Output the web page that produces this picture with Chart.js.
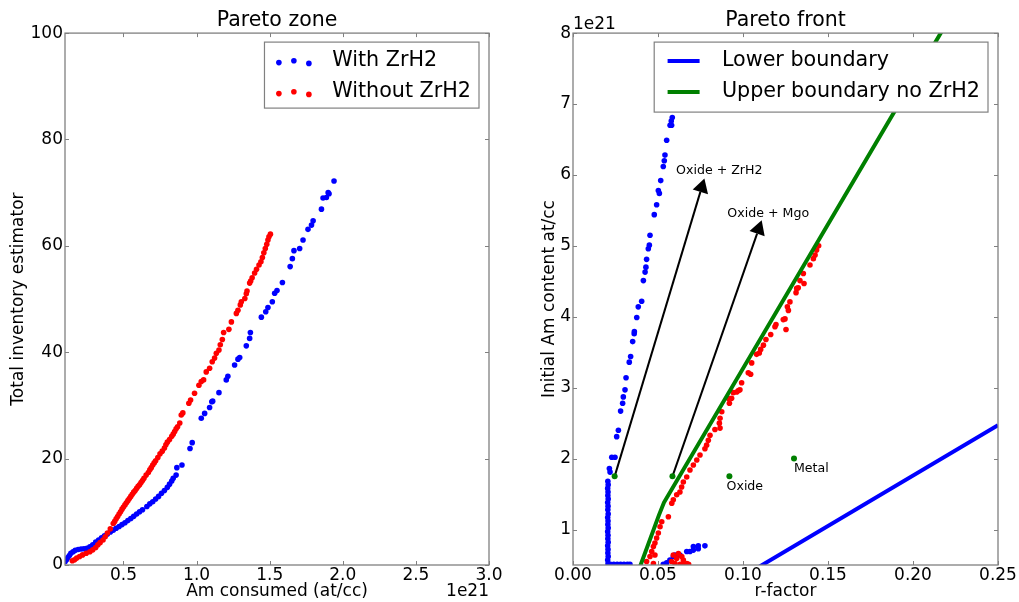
<!DOCTYPE html>
<html>
<head>
<meta charset="utf-8">
<script src="https://cdn.jsdelivr.net/npm/chart.js@4.4.0/dist/chart.umd.min.js"></script>
<style>
  html, body { margin: 0; padding: 0; background: #fff; }
  #wrap { position: relative; width: 1019px; height: 602px; }
  #zone { position: absolute; left: 0; top: 0; }
  #front { position: absolute; left: 520px; top: 0; }
</style>
</head>
<body>
<div id="wrap">
  <canvas id="zone" width="509" height="602"></canvas>
  <canvas id="front" width="499" height="602"></canvas>
</div>
<script>
const FONT = 'DejaVu Sans';
Chart.defaults.font.family = FONT;
Chart.defaults.color = '#000';

// ---- left panel: Pareto zone (x in units of 1e21 at/cc) ----
const zoneXTicks = [0.5, 1.0, 1.5, 2.0, 2.5, 3.0];
const zoneYTicks = [0, 20, 40, 60, 80, 100];
const withZrH2 = [
  [0.10,0.6],[0.11,1.0],[0.12,1.4],[0.13,1.8],[0.14,2.2],[0.155,2.5],[0.17,2.75],[0.19,2.9],
  [0.21,3.0],[0.23,3.05],[0.25,3.15],[0.27,3.4],[0.29,3.8],[0.31,4.3],[0.33,4.7],[0.35,5.1],
  [0.37,5.5],[0.39,5.85],[0.41,6.2],[0.43,6.55],[0.45,6.9],[0.47,7.25],[0.49,7.6],[0.51,7.95],
  [0.53,8.35],[0.55,8.75],[0.57,9.15],[0.59,9.6],[0.61,10.0],[0.63,10.4],[0.66,11.0],[0.68,11.5],
  [0.70,11.9],[0.72,12.4],[0.74,12.9],[0.76,13.5],[0.78,14.0],[0.80,14.6],[0.815,15.2],[0.83,15.8],
  [0.84,16.3],[0.86,16.9],[0.865,18.3],[0.90,18.8],[0.955,21.9],[0.97,23.0],[1.032,27.6],[1.055,28.5],
  [1.089,29.6],[1.104,30.7],[1.11,30.8],[1.153,32.4],[1.203,34.8],[1.214,35.5],[1.26,37.6],
  [1.283,38.7],[1.295,39.0],[1.34,41.2],[1.363,42.6],[1.368,43.7],[1.443,46.6],[1.473,47.6],[1.488,48.4],
  [1.518,49.5],[1.534,51.1],[1.55,51.6],[1.587,53.1],[1.64,56.1],[1.655,57.6],[1.666,59.1],[1.705,59.5],
  [1.728,61.1],[1.762,63.1],[1.786,63.9],[1.797,64.7],[1.854,66.9],[1.865,69.0],[1.888,69.1],[1.90,70.0],
  [1.906,69.8],[1.94,72.2]
];
const withoutZrH2 = [
  [0.15,0.8],[0.165,1.0],[0.18,1.3],[0.20,1.6],[0.22,1.9],[0.245,2.2],[0.27,2.5],[0.29,2.85],
  [0.31,3.3],[0.325,3.8],[0.34,4.2],[0.36,4.7],[0.375,5.3],[0.39,6.0],[0.41,6.8],[0.43,7.8],
  [0.44,8.2],[0.45,8.7],[0.46,9.1],[0.47,9.6],[0.48,10.0],[0.49,10.5],[0.50,10.9],[0.51,11.3],
  [0.52,11.7],[0.53,12.1],[0.54,12.5],[0.55,12.9],[0.56,13.3],[0.57,13.7],[0.58,14.0],[0.59,14.4],
  [0.60,14.8],[0.61,15.1],[0.62,15.5],[0.63,15.9],[0.64,16.3],[0.655,16.9],[0.67,17.4],[0.68,17.9],
  [0.69,18.3],[0.70,18.8],[0.71,19.2],[0.72,19.6],[0.735,20.2],[0.75,20.9],[0.765,21.4],[0.78,22.0],
  [0.79,22.6],[0.80,23.1],[0.815,23.6],[0.83,24.2],[0.84,24.6],[0.85,25.1],[0.86,25.6],[0.87,26.0],
  [0.885,26.7],[0.895,28.2],[0.906,28.6],[0.947,30.4],[0.959,31.0],[0.986,32.3],[1.016,33.8],
  [1.032,34.5],[1.048,34.8],[1.066,36.3],[1.089,37.0],[1.107,38.2],[1.123,38.9],[1.135,39.8],
  [1.153,40.4],[1.162,41.4],[1.176,42.4],[1.185,43.7],[1.221,44.3],[1.238,45.7],[1.272,47.3],
  [1.283,47.9],[1.299,48.9],[1.306,49.5],[1.33,50.1],[1.34,51.0],[1.345,51.5],[1.363,53.0],
  [1.37,53.4],[1.38,54.0],[1.397,54.9],[1.41,55.6],[1.427,56.4],[1.44,57.0],[1.45,57.8],[1.46,58.7],
  [1.47,59.5],[1.48,60.3],[1.488,61.1],[1.495,61.7],[1.505,62.2]
];

// ---- right panel: Pareto front (y in units of 1e21 at/cc) ----
const frontXTicks = [0, 0.05, 0.10, 0.15, 0.20, 0.25];
const frontYTicks = [1, 2, 3, 4, 5, 6, 7, 8];
const frontWith = [
  [0.0205,1.68],[0.0207,1.63],[0.0204,1.58],[0.0206,1.53],[0.0205,1.48],[0.0207,1.43],[0.0204,1.38],
  [0.0206,1.33],[0.0205,1.28],[0.0207,1.22],[0.0204,1.17],[0.0206,1.12],[0.0205,1.07],[0.0207,1.02],
  [0.0204,0.97],[0.0206,0.92],[0.0205,0.87],[0.0207,0.82],[0.0204,0.77],[0.0206,0.72],[0.0205,0.67],
  [0.0207,0.62],[0.0204,0.57],[0.0206,0.52],
  [0.022,0.51],[0.024,0.51],[0.026,0.51],[0.028,0.51],[0.030,0.51],[0.032,0.51],[0.0335,0.51],
  [0.0214,1.86],[0.0218,1.81],[0.0228,2.02],[0.0247,2.02],[0.0257,2.31],[0.0267,2.40],[0.0280,2.67],
  [0.0292,2.78],[0.0296,2.87],[0.0306,2.97],[0.0312,3.14],[0.0331,3.36],[0.0339,3.44],[0.0351,3.65],
  [0.0360,3.76],[0.0361,3.79],[0.0375,3.99],[0.0384,4.14],[0.0404,4.22],[0.0414,4.51],[0.0424,4.63],
  [0.0429,4.70],[0.0433,4.81],[0.0443,4.96],[0.0449,5.01],[0.0453,5.15],[0.0478,5.44],[0.0492,5.58],
  [0.0502,5.78],[0.0508,5.74],[0.0516,5.92],[0.0531,6.12],[0.0537,6.20],[0.0541,6.28],[0.0551,6.49],
  [0.0571,6.70],[0.0578,6.76],[0.0580,6.70],[0.0584,6.81],
  [0.0531,0.51],[0.0551,0.53],[0.057,0.57],[0.059,0.62],[0.060,0.64],[0.061,0.62],[0.0629,0.64],
  [0.0669,0.69],[0.0688,0.69],[0.0708,0.71],[0.0708,0.76],[0.0737,0.77],[0.0737,0.73],[0.0776,0.77]
];
const frontWithout = [
  [0.0433,0.55],[0.0453,0.62],[0.0463,0.69],[0.0473,0.52],[0.0473,0.76],[0.0482,0.81],[0.0482,0.64],
  [0.0492,0.88],[0.0502,0.95],[0.0512,1.04],[0.0522,1.11],[0.0561,1.18],[0.0581,1.37],[0.0590,1.42],
  [0.0610,1.49],[0.0629,1.53],[0.0639,1.60],[0.0649,1.67],[0.0669,1.74],[0.0688,1.84],[0.0708,1.91],
  [0.0728,1.98],[0.0747,2.05],[0.0776,2.14],[0.0786,2.19],[0.0796,2.26],[0.0806,2.33],[0.0835,2.41],
  [0.0865,2.43],[0.0861,2.50],[0.0865,2.57],[0.0875,2.66],[0.0920,2.78],[0.0914,2.85],[0.0933,2.85],
  [0.0943,2.93],[0.0963,2.94],[0.0973,2.96],[0.0982,2.97],[0.0992,3.07],[0.1031,3.21],[0.1045,3.19],
  [0.1051,3.35],[0.1080,3.47],[0.1096,3.49],[0.1104,3.54],[0.1120,3.60],[0.1135,3.68],[0.1163,3.75],
  [0.1188,3.86],[0.1194,3.89],[0.1253,3.82],[0.1237,3.96],[0.1247,3.97],[0.1267,4.09],[0.1261,4.14],
  [0.1276,4.21],[0.1312,4.34],[0.1325,4.41],[0.1316,4.40],[0.1359,4.47],[0.1335,4.51],[0.1355,4.61],
  [0.1394,4.73],[0.1414,4.82],[0.1424,4.87],[0.1433,4.94],[0.1445,5.00],
  [0.058,0.55],[0.059,0.64],[0.060,0.52],[0.061,0.59],[0.062,0.66],[0.064,0.62],[0.0649,0.57],
  [0.0669,0.52],[0.063,0.51],[0.065,0.51],[0.067,0.51],[0.068,0.51]
];
const lowerBoundary = [[0.10,0.34],[0.25,2.47]];
const upperBoundary = [[0.039,0.45],[0.0505,1.2],[0.0535,1.38],[0.22,8.15]];
const fuelPoints = [[0.0245,1.75],[0.0585,1.75],[0.092,1.75],[0.13,2.0]];
const pointLabels = [
  { text: 'Oxide', at: [0.0903, 1.61] },
  { text: 'Metal', at: [0.130, 1.86] }
];
const arrows = [
  { text: 'Oxide + ZrH2', from: [0.0245, 1.75], to: [0.0773, 5.95], textAt: [0.0606, 6.06] },
  { text: 'Oxide + Mgo', from: [0.0585, 1.75], to: [0.111, 5.36], textAt: [0.0908, 5.46] }
];

const xy = pts => pts.map(([x, y]) => ({ x, y }));
const FRAME = '#808080';

function axis(min, max, ticks, digits, title, side) {
  const horiz = side === 'x';
  return {
    type: 'linear', min, max,
    afterBuildTicks: s => { s.ticks = ticks.map(v => ({ value: v })); },
    afterFit: s => { if (horiz) s.height = 37; else s.width = side.width; },
    grid: { display: false, drawTicks: false },
    border: { display: false },
    ticks: {
      autoSkip: false, maxRotation: 0, minRotation: 0,
      padding: horiz ? 0 : 2,
      font: { size: 17 },
      callback: v => v.toFixed(digits)
    },
    title: {
      display: true, text: title, font: { size: 17 },
      padding: horiz ? { top: 0, bottom: 0 } : { top: side.pad, bottom: 0 }
    }
  };
}

// matplotlib-like frame with inward ticks on all four sides
const mplFrame = {
  id: 'mplFrame',
  afterDatasetsDraw(chart) {
    const { ctx, chartArea: a, scales: { x, y } } = chart;
    ctx.save();
    ctx.strokeStyle = FRAME;
    ctx.lineWidth = 1;
    ctx.beginPath();
    x.ticks.forEach(t => {
      const px = Math.round(x.getPixelForValue(t.value)) + 0.5;
      ctx.moveTo(px, a.bottom); ctx.lineTo(px, a.bottom - 4);
      ctx.moveTo(px, a.top); ctx.lineTo(px, a.top + 4);
    });
    y.ticks.forEach(t => {
      const py = Math.round(y.getPixelForValue(t.value)) + 0.5;
      ctx.moveTo(a.left, py); ctx.lineTo(a.left + 4, py);
      ctx.moveTo(a.right, py); ctx.lineTo(a.right - 4, py);
    });
    ctx.stroke();
    ctx.lineWidth = 1.3;
    ctx.strokeRect(a.left, a.top, a.right - a.left, a.bottom - a.top);
    ctx.restore();
  }
};

// legend box drawn inside the axes, upper right
const mplLegend = {
  id: 'mplLegend',
  afterDraw(chart, args, opts) {
    const { ctx, chartArea: a } = chart;
    const items = chart.data.datasets.filter(d => d.inLegend);
    ctx.save();
    ctx.font = `20.7px ${FONT}`;
    const textW = Math.max(...items.map(d => ctx.measureText(d.label).width));
    const w = 13.4 + 32 + 22.3 + textW + 8;
    const right = a.right - 10, left = right - w, top = a.top + 9;
    const h = 19 + (items.length - 1) * 31 + opts.bottom;
    ctx.fillStyle = '#fff';
    ctx.fillRect(left, top, w, h);
    ctx.strokeStyle = FRAME;
    ctx.lineWidth = 1.2;
    ctx.strokeRect(left, top, w, h);
    const dy = [1.5, -0.3, 2.3];
    items.forEach((d, i) => {
      const cy = top + 19 + i * 31;
      const hx = left + 13.4;
      if (d.showLine) {
        ctx.strokeStyle = d.borderColor;
        ctx.lineWidth = d.borderWidth;
        ctx.beginPath(); ctx.moveTo(hx, cy); ctx.lineTo(hx + 32, cy); ctx.stroke();
      } else {
        ctx.fillStyle = d.backgroundColor;
        [0, 15, 30].forEach((ox, k) => {
          ctx.beginPath(); ctx.arc(hx + 1 + ox, cy + dy[k], d.pointRadius, 0, Math.PI * 2); ctx.fill();
        });
      }
      ctx.fillStyle = '#000';
      ctx.textBaseline = 'middle';
      ctx.textAlign = 'left';
      ctx.fillText(d.label, hx + 32 + 22.3, cy);
    });
    ctx.restore();
  }
};

// scientific offset text ("1e21")
const offsetText = {
  id: 'offsetText',
  afterDraw(chart, args, opts) {
    const { ctx, chartArea: a } = chart;
    ctx.save();
    ctx.font = `17px ${FONT}`;
    ctx.fillStyle = '#000';
    ctx.textBaseline = 'middle';
    if (opts.axis === 'x') {
      ctx.textAlign = 'right';
      ctx.fillText(opts.text, a.right, a.bottom + 26.7);
    } else {
      ctx.textAlign = 'left';
      ctx.fillText(opts.text, a.left, a.top - 9);
    }
    ctx.restore();
  }
};

// annotations for the Pareto front panel
const frontNotes = {
  id: 'frontNotes',
  beforeDatasetsDraw(chart) {
    const { ctx, scales: { x, y } } = chart;
    ctx.save();
    ctx.strokeStyle = '#000';
    ctx.fillStyle = '#000';
    ctx.lineWidth = 2;
    arrows.forEach(ar => {
      const x0 = x.getPixelForValue(ar.from[0]), y0 = y.getPixelForValue(ar.from[1]);
      const x1 = x.getPixelForValue(ar.to[0]), y1 = y.getPixelForValue(ar.to[1]);
      const ang = Math.atan2(y1 - y0, x1 - x0);
      const hl = 14, hw = 8;
      const bx = x1 - hl * Math.cos(ang), by = y1 - hl * Math.sin(ang);
      ctx.beginPath(); ctx.moveTo(x0, y0); ctx.lineTo(bx, by); ctx.stroke();
      ctx.beginPath();
      ctx.moveTo(x1, y1);
      ctx.lineTo(bx + hw * Math.sin(ang), by - hw * Math.cos(ang));
      ctx.lineTo(bx - hw * Math.sin(ang), by + hw * Math.cos(ang));
      ctx.closePath(); ctx.fill();
    });
    ctx.restore();
  },
  afterDatasetsDraw(chart) {
    const { ctx, scales: { x, y } } = chart;
    ctx.save();
    ctx.font = `12.6px ${FONT}`;
    ctx.fillStyle = '#000';
    ctx.textBaseline = 'middle';
    ctx.textAlign = 'left';
    pointLabels.concat(arrows.map(a => ({ text: a.text, at: a.textAt }))).forEach(l => {
      ctx.fillText(l.text, x.getPixelForValue(l.at[0]), y.getPixelForValue(l.at[1]));
    });
    ctx.restore();
  }
};

const titleOpts = text => ({
  display: true, text, fullSize: false,
  font: { size: 20.5, weight: 'normal' },
  padding: { top: 8.5, bottom: 0 }
});

new Chart(document.getElementById('zone'), {
  type: 'scatter',
  data: {
    datasets: [
      { label: 'With ZrH2', data: xy(withZrH2), backgroundColor: '#0000ff', borderWidth: 0,
        pointRadius: 2.8, pointBorderWidth: 0, inLegend: true, order: 2 },
      { label: 'Without ZrH2', data: xy(withoutZrH2), backgroundColor: '#ff0000', borderWidth: 0,
        pointRadius: 2.8, pointBorderWidth: 0, inLegend: true, order: 1 }
    ]
  },
  options: {
    responsive: false, animation: false, events: [],
    layout: { padding: { left: 0, right: 20, top: 0, bottom: 0 } },
    scales: {
      x: axis(0.1, 3.0, zoneXTicks, 1, 'Am consumed (at/cc)', 'x'),
      y: axis(0, 100, zoneYTicks, 0, 'Total inventory estimator', { width: 65, pad: 8 })
    },
    plugins: {
      legend: { display: false }, tooltip: { enabled: false },
      title: titleOpts('Pareto zone'),
      mplLegend: { bottom: 16 },
      offsetText: { text: '1e21', axis: 'x' }
    }
  },
  plugins: [mplFrame, mplLegend, offsetText]
});

new Chart(document.getElementById('front'), {
  type: 'scatter',
  data: {
    datasets: [
      { label: 'With ZrH2', data: xy(frontWith), backgroundColor: '#0000ff',
        pointRadius: 2.8, pointBorderWidth: 0, order: 5 },
      { label: 'Without ZrH2', data: xy(frontWithout), backgroundColor: '#ff0000',
        pointRadius: 2.8, pointBorderWidth: 0, order: 4 },
      { label: 'Lower boundary', data: xy(lowerBoundary), showLine: true, borderColor: '#0000ff',
        backgroundColor: '#0000ff', borderWidth: 4, pointRadius: 0, inLegend: true, order: 3 },
      { label: 'Upper boundary no ZrH2', data: xy(upperBoundary), showLine: true, borderColor: '#008000',
        backgroundColor: '#008000', borderWidth: 4, pointRadius: 0, inLegend: true, order: 2 },
      { label: 'Fuels', data: xy(fuelPoints), backgroundColor: '#008000',
        pointRadius: 3, pointBorderWidth: 0, order: 1 }
    ]
  },
  options: {
    responsive: false, animation: false, events: [],
    layout: { padding: { left: 0, right: 21, top: 0, bottom: 0 } },
    scales: {
      x: axis(0, 0.25, frontXTicks, 2, 'r-factor', 'x'),
      y: axis(0.5, 8, frontYTicks, 0, 'Initial Am content at/cc', { width: 53, pad: 19.8 })
    },
    plugins: {
      legend: { display: false }, tooltip: { enabled: false },
      title: titleOpts('Pareto front'),
      mplLegend: { bottom: 20 },
      offsetText: { text: '1e21', axis: 'y' }
    }
  },
  plugins: [frontNotes, mplFrame, mplLegend, offsetText]
});
</script>
</body>
</html>
